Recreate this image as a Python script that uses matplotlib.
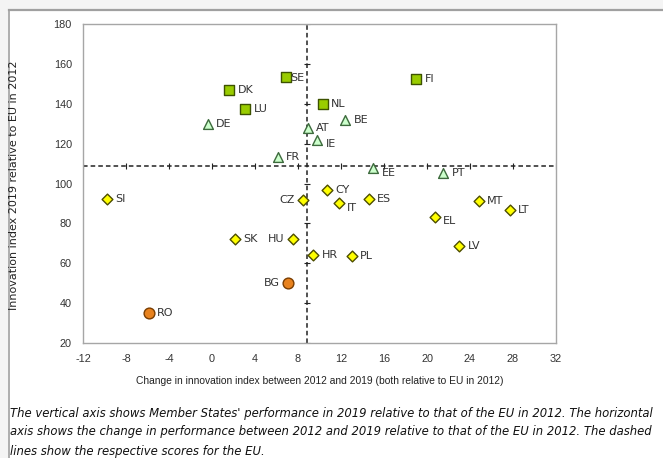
import matplotlib
matplotlib.use("Agg")
import matplotlib.pyplot as plt
from matplotlib.lines import Line2D
from matplotlib.patches import Rectangle

# ---------------- data ----------------
lead_names = ["SE", "DK", "LU", "NL", "FI"]
lead_x = [6.9, 1.6, 3.1, 10.3, 19.0]
lead_y = [153.4, 146.9, 137.4, 139.7, 152.4]

strong_names = ["DE", "AT", "IE", "FR", "BE", "EE", "PT"]
strong_x = [-0.4, 8.9, 9.8, 6.1, 12.4, 15.0, 21.5]
strong_y = [129.8, 127.7, 121.8, 113.4, 131.8, 107.6, 105.4]

mod_names = ["SI", "CZ", "CY", "IT", "SK", "HU", "HR", "PL", "ES", "MT", "LT", "EL", "LV"]
mod_x = [-9.8, 8.5, 10.7, 11.8, 2.1, 7.5, 9.4, 13.0, 14.6, 24.8, 27.7, 20.7, 23.0]
mod_y = [92.2, 91.7, 96.7, 90.0, 72.2, 72.2, 64.0, 63.8, 92.4, 91.2, 86.7, 83.3, 68.5]

modest_names = ["BG", "RO"]
modest_x = [7.1, -5.9]
modest_y = [50.2, 35.2]

eu_x = 8.8
eu_y = 108.8

x_ticks = [-12, -8, -4, 0, 4, 8, 12, 16, 20, 24, 28, 32]
y_ticks = [20, 40, 60, 80, 100, 120, 140, 160, 180]

x_label = "Change in innovation index between 2012 and 2019 (both relative to EU in 2012)"
y_label = "Innovation index 2019 relative to EU in 2012"
caption = [
    "The vertical axis shows Member States' performance in 2019 relative to that of the EU in 2012. The horizontal",
    "axis shows the change in performance between 2012 and 2019 relative to that of the EU in 2012. The dashed",
    "lines show the respective scores for the EU.",
]

left_labels = {"CZ", "HU", "BG"}
below_labels = {"IE", "IT", "EE", "EL"}

# ---------------- figure ----------------
W, H = 663, 458
fig = plt.figure(figsize=(W / 100, H / 100), dpi=100)
fig.patch.set_facecolor("white")

fig.patches.append(Rectangle((0, 0), 8 / W, 1, transform=fig.transFigure,
                             facecolor="#f4f4f4", edgecolor="none", zorder=0))
fig.patches.append(Rectangle((0, 1 - 10 / H), 1, 10 / H, transform=fig.transFigure,
                             facecolor="#f4f4f4", edgecolor="none", zorder=0))
fig.add_artist(Line2D([8.5 / W, 8.5 / W], [0, 1 - 10 / H], transform=fig.transFigure,
                      color="#a0a0a0", lw=1.2))
fig.add_artist(Line2D([8.5 / W, 1], [1 - 10 / H, 1 - 10 / H], transform=fig.transFigure,
                      color="#a0a0a0", lw=1.6))

ax = fig.add_axes([83 / W, 1 - 343 / H, (556 - 83) / W, (343 - 24) / H])
ax.set_xlim(-12, 32)
ax.set_ylim(20, 180)
for s in ax.spines.values():
    s.set_color("#a6a6a6")
    s.set_linewidth(1.0)

tick_font = dict(family=["Liberation Sans Narrow", "Liberation Sans"], fontsize=7.8, color="#333333")
ax.set_xticks(x_ticks)
ax.set_yticks(y_ticks)
ax.set_xticklabels([str(t) for t in x_ticks], **tick_font)
ax.set_yticklabels([str(t) for t in y_ticks], **tick_font)
ax.tick_params(length=0, pad=8)

ax.axvline(eu_x, color="#222222", lw=1.1, ls=(0, (3, 2)), zorder=1)
ax.axhline(eu_y, color="#222222", lw=1.1, ls=(0, (3, 2)), zorder=1)
ax.plot(x_ticks, [eu_y] * len(x_ticks), ls="none", marker="|", ms=4,
        color="#222222", mew=0.8, zorder=1)
ax.plot([eu_x] * len(y_ticks), y_ticks, ls="none", marker="_", ms=4,
        color="#222222", mew=0.8, zorder=1)

ax.scatter(lead_x, lead_y, marker="s", s=60, facecolor="#99cc00",
           edgecolor="#3d5200", linewidth=1.0, zorder=3)
ax.scatter(strong_x, strong_y, marker="^", s=50, facecolor="#ccffcc",
           edgecolor="#3d6b3d", linewidth=1.0, zorder=3)
ax.scatter(mod_x, mod_y, marker="D", s=30, facecolor="#ffff00",
           edgecolor="#4d4d00", linewidth=1.0, zorder=3)
ax.scatter(modest_x, modest_y, marker="o", s=60, facecolor="#e8821e",
           edgecolor="#7a3d00", linewidth=1.0, zorder=3)

lab_font = dict(family="DejaVu Sans", fontsize=8, color="#333333")
def label(names, xs, ys):
    for n, x, y in zip(names, xs, ys):
        if n in left_labels:
            ax.annotate(n, (x, y), xytext=(-6, 0), textcoords="offset points",
                        ha="right", va="center", **lab_font)
        elif n in below_labels:
            ax.annotate(n, (x, y), xytext=(6, -3), textcoords="offset points",
                        ha="left", va="center", **lab_font)
        elif n == "SE":
            ax.annotate(n, (x, y), xytext=(3, -1), textcoords="offset points",
                        ha="left", va="center", **lab_font)
        else:
            ax.annotate(n, (x, y), xytext=(6, 0), textcoords="offset points",
                        ha="left", va="center", **lab_font)

label(lead_names, lead_x, lead_y)
label(strong_names, strong_x, strong_y)
label(mod_names, mod_x, mod_y)
label(modest_names, modest_x, modest_y)

fig.text(320 / W, 1 - 381 / H, x_label, ha="center", va="center",
         family=["Liberation Sans Narrow", "Liberation Sans"], fontsize=7.4, color="#222222")
fig.text(14 / W, 1 - 185 / H, y_label, ha="center", va="center", rotation=90,
         family="DejaVu Sans", fontsize=8, color="#222222")

for i, line in enumerate(caption):
    fig.text(10 / W, 1 - (413 + i * 19) / H, line, ha="left", va="center",
             family="DejaVu Sans", style="italic", fontsize=8.4, color="#111111")

fig.savefig("out.png", dpi=100)
